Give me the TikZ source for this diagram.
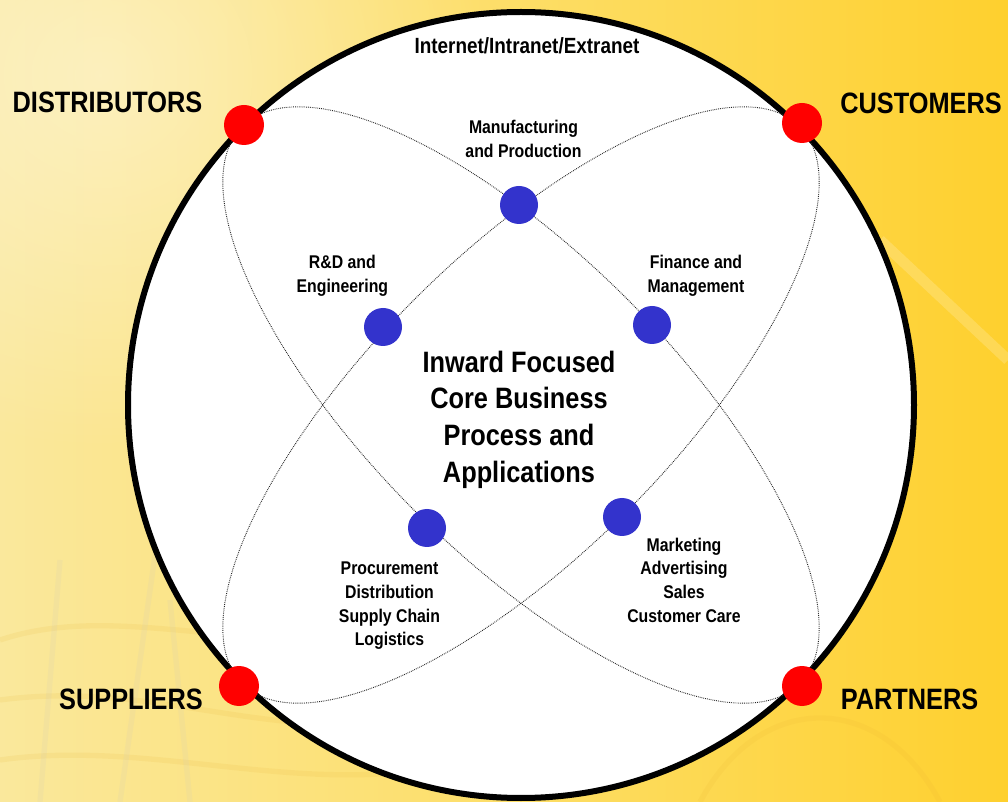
\documentclass[tikz,border=0pt]{standalone}
\usepackage{fontspec}
\setmainfont{Liberation Sans}[FakeStretch=0.86]
\usetikzlibrary{fadings}
\definecolor{bgL}{HTML}{FAE89C}
\definecolor{bgM}{HTML}{FDDE68}
\definecolor{bgR}{HTML}{FED02E}
\definecolor{dotblue}{HTML}{3333CC}
\definecolor{dotred}{HTML}{FF0000}
\definecolor{streak}{HTML}{E8B030}
\definecolor{beige}{HTML}{D8D0B0}
\tikzfading[name=glowfade, inner color=transparent!60, outer color=transparent!100]
\begin{document}
\begin{tikzpicture}[x=0.75pt,y=-0.75pt,
  reddot/.style={circle, fill=dotred, draw=none, minimum size=30pt, inner sep=0pt},
  bluedot/.style={circle, fill=dotblue, draw=none, minimum size=28.5pt, inner sep=0pt},
  orbit/.style={draw=black!85, line width=0.7pt, dash pattern=on 0.6pt off 0.8pt},
  rim/.style={draw=black, line width=4.5pt, fill=white},
  cornerlabel/.style={inner sep=0pt, anchor=base, font={\fontsize{22.1pt}{26pt}\selectfont\bfseries}},
  toplabel/.style={inner sep=0pt, anchor=base, font={\fontsize{16.5pt}{20pt}\selectfont\bfseries}},
  smalllabel/.style={inner sep=0pt, anchor=north, align=center, font={\fontsize{13.8pt}{17.8pt}\selectfont\bfseries}},
  corelabel/.style={inner sep=0pt, anchor=north, align=center, font={\fontsize{22.1pt}{27.5pt}\selectfont\bfseries}},
  texture/.style={draw=streak, line width=4pt, opacity=0.12}
]
\useasboundingbox (0,0) rectangle (1008,802);
% background
\shade[left color=bgL, right color=bgR, middle color=bgM] (0,0) rectangle (1008,802);
\fill[white, path fading=glowfade] (-300,-300) rectangle (500,450);
% faint background texture
\draw[texture] (0,640) .. controls (120,600) and (250,660) .. (420,630);
\draw[texture] (0,700) .. controls (150,680) and (260,740) .. (400,720);
\draw[texture] (0,760) .. controls (140,740) and (280,790) .. (420,770);
\draw[texture, draw=beige, opacity=0.2] (40,802) -- (60,560);
\draw[texture, draw=beige, opacity=0.2] (120,802) -- (160,520);
\draw[texture, draw=beige, opacity=0.2] (190,802) -- (170,600);
\draw[texture] (700,802) .. controls (760,690) and (880,690) .. (940,802);
\draw[texture, draw=white, opacity=0.18, line width=8pt] (880,240) -- (1008,360);
% outer circle
\draw[rim] (521,405) circle (393);
% orbits
\draw[orbit, rotate around={-45:(521,405)}] (521,405) ellipse [x radius=394, y radius=150];
\draw[orbit, rotate around={45:(521,405)}] (521,405) ellipse [x radius=394, y radius=150];
% red dots
\node[reddot] (distdot) at (244,125) {};
\node[reddot] (custdot) at (802,123) {};
\node[reddot] (suppdot) at (239,686) {};
\node[reddot] (partdot) at (802,686) {};
% blue dots
\node[bluedot] (mfgdot) at (519,205) {};
\node[bluedot] (rnddot) at (383,327) {};
\node[bluedot] (findot) at (652,325) {};
\node[bluedot] (prodot) at (427,528) {};
\node[bluedot] (mktdot) at (622,517) {};
% labels
\node[toplabel] (net) at (527,53.3) {Internet/Intranet/Extranet};
\node[cornerlabel] (dist) at (107.5,113) {DISTRIBUTORS};
\node[cornerlabel] (cust) at (921,114) {CUSTOMERS};
\node[cornerlabel] (supp) at (131,709) {SUPPLIERS};
\node[cornerlabel] (part) at (909.5,709) {PARTNERS};
\node[smalllabel] (mfg) at (523.5,119.8) {Manufacturing\\and Production};
\node[smalllabel] (rnd) at (342.4,255.3) {R\&D and\\Engineering};
\node[smalllabel] (fin) at (696,255.1) {Finance and\\Management};
\node[smalllabel] (pro) at (389.5,561.8) {Procurement\\Distribution\\Supply Chain\\Logistics};
\node[smalllabel] (mkt) at (684,537.5) {Marketing\\Advertising\\Sales\\Customer Care};
\node[corelabel] (core) at (519,350.5) {Inward Focused\\Core Business\\Process and\\Applications};
\end{tikzpicture}
\end{document}
